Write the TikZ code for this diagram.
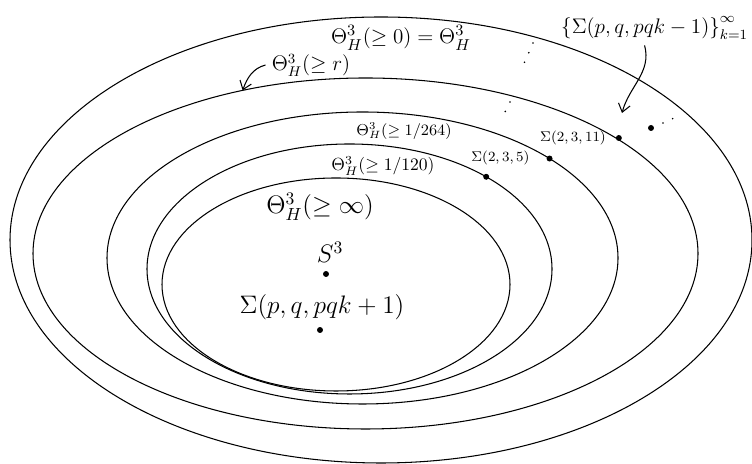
\documentclass[tikz,border=0pt]{standalone}
\usepackage{amsmath}
\usetikzlibrary{shapes.geometric, arrows.meta, positioning}
\tikzset{
  ring/.style={ellipse, draw, semithick, inner sep=0pt, outer sep=0pt},
  dot/.style={circle, fill, inner sep=0pt, minimum size=3.4pt},
  arr/.style={-{Straight Barb[length=1.6mm, width=2.4mm]}, semithick},
  dotline/.style={line width=1pt, line cap=round, dash pattern=on 0pt off 6pt},
}

\begin{document}
\begin{tikzpicture}
  \useasboundingbox (0,0) rectangle (15.04,9.28);
  % nested classes
  \node[ring, minimum width=14.84cm, minimum height=8.92cm] (r1) at (7.62,4.48) {};
  \node[ring, minimum width=13.30cm, minimum height=7.02cm] (r2) at (7.31,4.21) {};
  \node[ring, minimum width=10.22cm, minimum height=5.84cm] (r3) at (7.25,4.12) {};
  \node[ring, minimum width=8.10cm,  minimum height=5.00cm] (r4) at (6.99,3.90) {};
  \node[ring, minimum width=6.96cm,  minimum height=4.26cm] (r5) at (6.72,3.59) {};
  % labels of the classes
  \node[font=\fontsize{12.6pt}{15pt}\selectfont] (all) at (8.02,8.52) {$\Theta^3_H(\geq 0)=\Theta^3_H$};
  \node[font=\large] (geqr) at (6.22,7.98) {$\Theta^3_H(\geq r)$};
  \node[font=\small] (g264) at (8.08,6.66) {$\Theta^3_H(\geq 1/264)$};
  \node (g120) at (7.66,5.96) {$\Theta^3_H(\geq 1/120)$};
  \node[font=\Large] (ginf) at (6.40,5.14) {$\Theta^3_H(\geq \infty)$};
  \node[font=\Large] (s3) at (6.60,4.24) {$S^3$};
  \node[dot] (s3dot) at (6.52,3.80) {};
  \node[font=\Large] (spq) at (6.44,3.14) {$\Sigma(p,q,pqk+1)$};
  \node[dot] (spqdot) at (6.40,2.68) {};
  % Brieskorn spheres
  \node[dot] (p235) at (r4.34) {};
  \node[font=\footnotesize, above=1pt of p235.north, anchor=south west, xshift=-0.42cm] (l235) {$\Sigma(2,3,5)$};
  \node[dot] (p3) at (r3.28) {};
  \node[font=\footnotesize] (l2311) at (11.46,6.52) {$\Sigma(2,3,11)$};
  \node[dot, right=2pt of l2311] (p2311) {};
  \node[dot] (pk) at (13.02,6.72) {};
  \node[font=\large, anchor=west] (setlbl) at (11.10,8.72) {$\left\{\Sigma(p,q,pqk-1)\right\}_{k=1}^{\infty}$};
  \coordinate (settip) at (12.44,7.02);
  % dots
  \draw[dotline] (10.66,8.42) -- (10.44,7.92);
  \draw[dotline] (10.20,7.24) -- (10.04,6.92);
  \draw[dotline] (13.26,6.82) -- (13.62,6.98);
  % arrows
  \draw[arr] (geqr.west) to[out=195, in=70] (r2.127);
  \draw[arr] ([xshift=-0.2cm]setlbl.south) to[out=-75, in=75] (settip);
\end{tikzpicture}
\end{document}
